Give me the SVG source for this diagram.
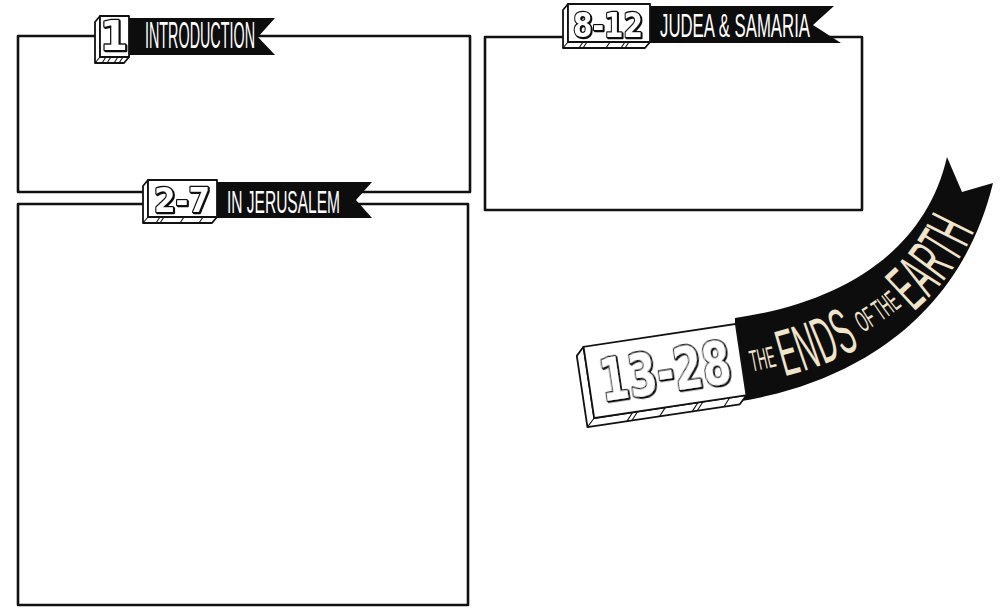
<svg xmlns="http://www.w3.org/2000/svg" width="1001" height="608" viewBox="0 0 1001 608">
<defs>
<style>
.box{fill:none;stroke:#111;stroke-width:2.6;stroke-linejoin:round}
.face{fill:#fff;stroke:#111;stroke-width:1.8;stroke-linejoin:round}
.hatch{stroke:#111;stroke-width:1.1;fill:none}
.rib{fill:#0d0d0d}
.rtxt{fill:#ffffff;font-family:"Liberation Sans Narrow","Liberation Sans",sans-serif;font-weight:normal}
.num{fill:#fff;stroke:#111;stroke-width:2.6;paint-order:stroke;stroke-linejoin:round;font-family:"DejaVu Sans",sans-serif;font-weight:bold;text-anchor:middle;filter:url(#sh)}
.ctxt{fill:#f0e4ca;font-family:"Liberation Sans Narrow","Liberation Sans",sans-serif}
</style>
<filter id="sh" x="-10%" y="-10%" width="130%" height="130%">
<feDropShadow dx="1" dy="1" stdDeviation="0" flood-color="#111"/>
</filter>
<path id="arc" d="M 742,362 C 845,345 945,290 968,175"/>
</defs>
<rect width="1001" height="608" fill="#fff"/>

<g id="node-intro">
<rect class="box" x="18" y="36" width="452" height="156"/>
<polygon class="rib" points="125,18 275,18 258,37 275,55 125,55"/>
<text class="rtxt" x="145" y="48" font-size="36" textLength="110" lengthAdjust="spacingAndGlyphs">INTRODUCTION</text>
<polygon class="face" points="100,16 95,22 95,63 124,63 129,57 100,57"/>
<path class="hatch" d="M100,57 L95,63 M106,57 L102,63 M111,57 L107,63 M118,57 L114,63 M123,57 L119,63"/>
<rect class="face" x="100" y="16" width="29" height="41"/>
<text class="num" x="114" y="50" font-size="40">1</text>
</g>

<g id="node-jerusalem">
<rect class="box" x="18" y="204" width="450" height="401"/>
<polygon class="rib" points="213,182 372,182 356,200 372,218 213,218"/>
<text class="rtxt" x="227" y="213" font-size="32" textLength="113" lengthAdjust="spacingAndGlyphs">IN JERUSALEM</text>
<polygon class="face" points="148,180 143,186 143,223 212,223 217,217 148,217"/>
<path class="hatch" d="M148,217 L143,223 M160,217 L156,223 M164,217 L160,223 M184,217 L180,223 M203,217 L199,223"/>
<rect class="face" x="148" y="180" width="69" height="37"/>
<text class="num" x="182" y="212" font-size="33" textLength="56" lengthAdjust="spacingAndGlyphs">2-7</text>
</g>

<g id="node-judea">
<rect class="box" x="485" y="37" width="377" height="173"/>
<polygon class="rib" points="646,6 834,6 813,25 841,43 646,43"/>
<text class="rtxt" x="660" y="37" font-size="33" textLength="150" lengthAdjust="spacingAndGlyphs">JUDEA &amp; SAMARIA</text>
<polygon class="face" points="568,4 563,10 563,48 645,48 650,42 568,42"/>
<path class="hatch" d="M568,42 L563,48 M583,42 L579,48 M587,42 L583,48 M610,42 L606,48 M625,42 L621,48 M629,42 L625,48"/>
<rect class="face" x="568" y="4" width="82" height="38"/>
<text class="num" x="608" y="37" font-size="34" textLength="70" lengthAdjust="spacingAndGlyphs">8-12</text>
</g>

<g id="node-ends">
<path class="rib" d="M 735,318 C 840,303 925,253 947,157 L 962,192 L 993,183 C 960,320 850,385 735,402 Z"/>
<text class="ctxt" dominant-baseline="central"><textPath href="#arc" startOffset="8" textLength="258" lengthAdjust="spacingAndGlyphs"><tspan font-size="30">THE </tspan><tspan font-size="66">ENDS </tspan><tspan font-size="30">OF THE </tspan><tspan font-size="66">EARTH</tspan></textPath></text>
<g transform="translate(665,371) rotate(-8.5)">
<polygon class="face" points="-77,-36 -85,-28 -85,44 69,44 77,36 -77,36"/>
<path class="hatch" d="M-77,36 L-85,44 M-38,36 L-45,44 M-33,36 L-40,44 M-5,36 L-12,44 M28,36 L21,44 M33,36 L26,44 M60,36 L53,44"/>
<rect class="face" x="-77" y="-36" width="154" height="72"/>
<text class="num" x="0" y="21" font-size="58" stroke-width="3.4" textLength="132" lengthAdjust="spacingAndGlyphs">13-28</text>
</g>
</g>

<g id="connectors"/>
</svg>
